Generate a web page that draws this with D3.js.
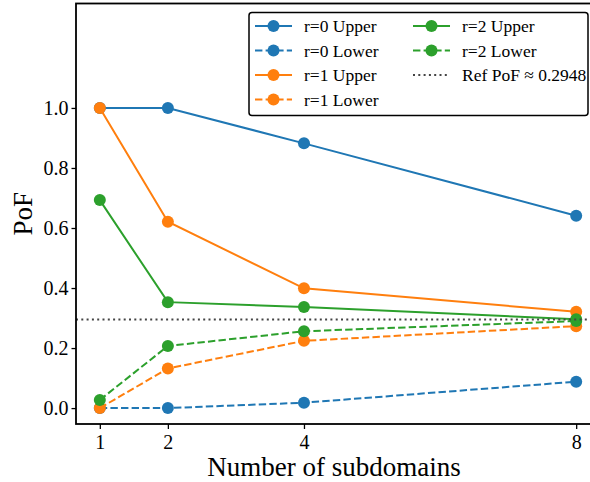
<!DOCTYPE html>
<html>
<head>
<meta charset="utf-8">
<script src="https://cdn.jsdelivr.net/npm/d3@7"></script>
<style>
  html, body { margin: 0; padding: 0; background: #fff; }
  svg { display: block; }
</style>
</head>
<body>
<svg id="chart" width="590" height="482"></svg>
<script>
// ---- data ----
const subdomains = [1, 2, 4, 8];
const r0Upper = [1.0, 1.0, 0.882, 0.641];
const r0Lower = [0.0, 0.0, 0.018, 0.088];
const r1Upper = [1.0, 0.621, 0.399, 0.321];
const r1Lower = [0.0, 0.132, 0.224, 0.273];
const r2Upper = [0.693, 0.353, 0.337, 0.296];
const r2Lower = [0.027, 0.207, 0.256, 0.290];
const refPoF = 0.2948;
const yTicks = [0.0, 0.2, 0.4, 0.6, 0.8, 1.0];
const xTicks = [1, 2, 4, 8];
const seriesNames = ["r=0 Upper", "r=0 Lower", "r=1 Upper", "r=1 Lower", "r=2 Upper", "r=2 Lower"];
const refLabel = "Ref PoF \u2248 0.2948";

const colors = { r0: "#1f77b4", r1: "#ff7f0e", r2: "#2ca02c" };
const series = [
  { name: seriesNames[0], values: r0Upper, color: colors.r0, dashed: false },
  { name: seriesNames[1], values: r0Lower, color: colors.r0, dashed: true },
  { name: seriesNames[2], values: r1Upper, color: colors.r1, dashed: false },
  { name: seriesNames[3], values: r1Lower, color: colors.r1, dashed: true },
  { name: seriesNames[4], values: r2Upper, color: colors.r2, dashed: false },
  { name: seriesNames[5], values: r2Lower, color: colors.r2, dashed: true }
];

const FONT = "'Liberation Serif', 'Times New Roman', serif";
const svg = d3.select("#chart");
const pL = 76, pR = 600, pT = 3.5, pB = 424;
const x = d3.scaleLinear().domain([0.65, 8.35]).range([pL, pR]);
const y = d3.scaleLinear().domain([-0.053, 1.348]).range([pB, pT]);

const dash = "7.4,3.2";
const lw = 2;

svg.append("defs").append("clipPath").attr("id", "clip")
  .append("rect").attr("x", pL).attr("y", pT).attr("width", pR - pL).attr("height", pB - pT);

const plot = svg.append("g").attr("clip-path", "url(#clip)");
const line = d3.line().x((d, i) => x(subdomains[i])).y(d => y(d));

series.forEach(s => {
  plot.append("path")
    .attr("d", line(s.values))
    .attr("fill", "none")
    .attr("stroke", s.color)
    .attr("stroke-width", lw)
    .attr("stroke-dasharray", s.dashed ? dash : null);
  plot.selectAll(null).data(s.values).enter().append("circle")
    .attr("cx", (d, i) => x(subdomains[i]))
    .attr("cy", d => y(d))
    .attr("r", 6)
    .attr("fill", s.color);
});

// reference line
plot.append("line")
  .attr("x1", pL).attr("x2", pR)
  .attr("y1", y(refPoF)).attr("y2", y(refPoF))
  .attr("stroke", "#444")
  .attr("stroke-width", 2)
  .attr("stroke-dasharray", "2,3.3");

// axes
const yAxis = d3.axisLeft(y).tickValues(yTicks).tickFormat(d3.format(".1f")).tickSize(4.5).tickPadding(3);
const xAxis = d3.axisBottom(x).tickValues(xTicks).tickFormat(d3.format("d")).tickSize(5).tickPadding(6);

const gy = svg.append("g").attr("transform", `translate(${pL},0)`).call(yAxis);
const gx = svg.append("g").attr("transform", `translate(0,${pB})`).call(xAxis);
[gx, gy].forEach(g => {
  g.attr("font-family", FONT).attr("font-size", 20);
  g.select(".domain").remove();
  g.selectAll(".tick line").attr("stroke", "#000").attr("stroke-width", 1.3);
  g.selectAll(".tick text").attr("fill", "#000").attr("font-family", FONT);
});

// spines
svg.append("rect")
  .attr("x", pL).attr("y", pT).attr("width", pR - pL).attr("height", pB - pT)
  .attr("fill", "none").attr("stroke", "#000").attr("stroke-width", 1.8);

// axis labels
svg.append("text")
  .attr("x", 334).attr("y", 476)
  .attr("text-anchor", "middle")
  .attr("font-family", FONT).attr("font-size", 27)
  .text("Number of subdomains");
svg.append("text")
  .attr("transform", `translate(32,${(pT + pB) / 2}) rotate(-90)`)
  .attr("text-anchor", "middle")
  .attr("font-family", FONT).attr("font-size", 27)
  .text("PoF");

// legend
const lg = svg.append("g").attr("font-family", FONT).attr("font-size", 17.5);
lg.append("rect")
  .attr("x", 249).attr("y", 12.5).attr("width", 339).attr("height", 103)
  .attr("rx", 3).attr("fill", "#fff").attr("stroke", "#000").attr("stroke-width", 1.5);

const legendItems = series.map(s => ({ label: s.name, color: s.color, dashed: s.dashed, marker: true }))
  .concat([{ label: refLabel, color: "#444", dashed: false, dotted: true, marker: false }]);
const rowY = [26, 50.5, 75, 99.5];
legendItems.forEach((it, i) => {
  const col = i < 4 ? 0 : 1;
  const row = i < 4 ? i : i - 4;
  const hx0 = col === 0 ? 255 : 413;
  const hx1 = hx0 + 37;
  const tx = col === 0 ? 304 : 462;
  const yy = rowY[row];
  lg.append("line")
    .attr("x1", hx0).attr("x2", hx1).attr("y1", yy).attr("y2", yy)
    .attr("stroke", it.color).attr("stroke-width", lw)
    .attr("stroke-dasharray", it.dotted ? "2,3.3" : (it.dashed ? dash : null));
  if (it.marker) {
    lg.append("circle").attr("cx", (hx0 + hx1) / 2).attr("cy", yy).attr("r", 6).attr("fill", it.color);
  }
  lg.append("text")
    .attr("x", tx).attr("y", yy).attr("dy", "0.35em")
    .attr("fill", "#000").attr("font-family", FONT)
    .text(it.label);
});
</script>
</body>
</html>
